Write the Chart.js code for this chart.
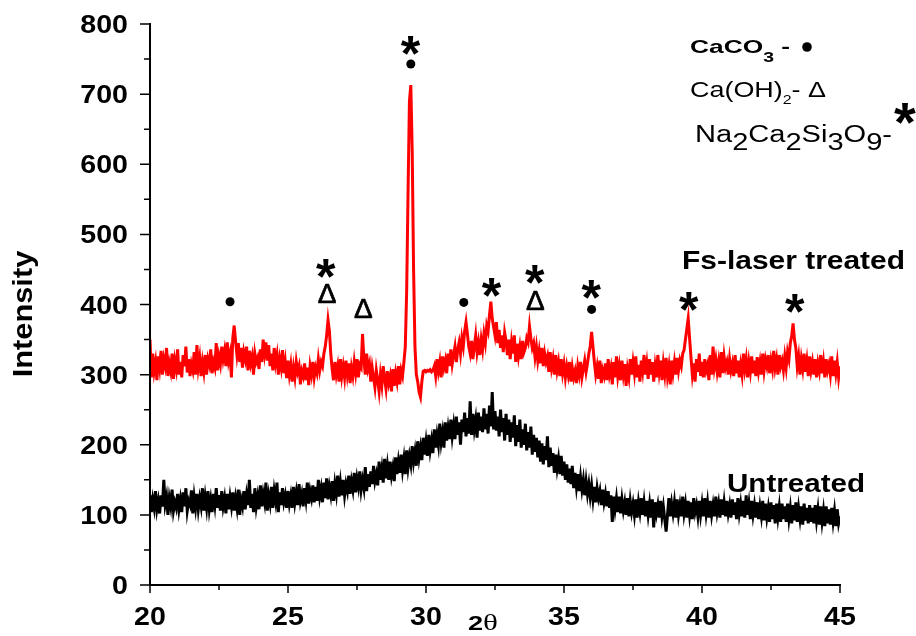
<!DOCTYPE html>
<html lang="en">
<head>
  <meta charset="UTF-8" />
  <title>XRD - Fs-laser treated vs Untreated</title>
  <script src="https://cdn.jsdelivr.net/npm/chart.js"></script>
  <style>
    html, body { margin: 0; padding: 0; background: #fff; }
    canvas { display: block; }
  </style>
</head>
<body>
  <canvas id="xrdChart" width="916" height="636"></canvas>

  <script>
    // scan grid (2theta, degrees)
    const angleStart = 20;
    const angleStep = 0.05;

    // Fs-laser treated, one row per degree, 20.00 .. 45.00
    const treated = [
      350, 296, 330, 305, 318, 292, 326, 310, 334, 300, 322, 312, 338, 298, 316, 305, 330, 294, 320, 308,
      336, 300, 318, 296, 328, 312, 340, 303, 322, 298, 315, 306, 332, 300, 342, 310, 324, 298, 318, 304,
      328, 300, 322, 314, 336, 302, 318, 310, 345, 306, 326, 315, 340, 322, 334, 312, 346, 320, 330, 296,
      352, 370, 348, 328, 345, 318, 338, 310, 332, 322, 340, 306, 334, 316, 326, 300, 330, 318, 324, 308,
      336, 318, 350, 330, 346, 320, 342, 312, 330, 306, 338, 316, 328, 300, 322, 310, 335, 302, 318, 295,
      320, 300, 314, 290, 310, 296, 318, 304, 312, 286, 305, 298, 316, 292, 310, 285, 312, 300, 318, 296,
      310, 302, 322, 306, 318, 312, 330, 340, 356, 378, 362, 330, 308, 292, 318, 300, 312, 290, 322, 298,
      312, 296, 320, 300, 316, 288, 310, 298, 318, 302, 322, 296, 314, 310, 358, 322, 300, 330, 308, 316,
      290, 310, 296, 282, 306, 292, 276, 300, 285, 312, 294, 280, 305, 288, 298, 276, 308, 284, 302, 290,
      312, 286, 306, 298, 318, 340, 420, 560, 690, 713, 620, 450, 340, 300, 290, 275, 268, 290, 305, 306,
      304, 306, 305, 307, 304, 306, 312, 298, 322, 305, 318, 296, 326, 310, 320, 302, 330, 312, 336, 315,
      328, 340, 318, 336, 346, 330, 352, 340, 362, 375, 358, 340, 330, 348, 322, 340, 356, 332, 346, 328,
      350, 336, 358, 345, 370, 362, 385, 404, 380, 368, 356, 375, 345, 364, 338, 356, 332, 360, 348, 328,
      350, 322, 346, 330, 356, 318, 344, 326, 340, 322, 348, 332, 338, 352, 346, 369, 352, 338, 345, 325,
      340, 320, 334, 316, 338, 312, 330, 318, 326, 304, 332, 310, 322, 300, 328, 306, 318, 298, 322, 302,
      315, 296, 312, 300, 318, 290, 310, 296, 305, 288, 312, 300, 318, 296, 308, 320, 304, 316, 330, 340,
      361, 340, 318, 300, 312, 294, 320, 288, 306, 298, 316, 292, 322, 300, 310, 286, 318, 296, 326, 298,
      312, 292, 320, 300, 315, 284, 308, 296, 322, 300, 318, 302, 326, 296, 314, 290, 320, 305, 328, 300,
      316, 294, 322, 300, 318, 290, 312, 296, 328, 304, 320, 292, 316, 300, 324, 298, 312, 286, 320, 302,
      318, 300, 324, 306, 320, 312, 330, 335, 350, 365, 380, 352, 325, 300, 316, 290, 322, 304, 330, 298,
      318, 296, 322, 306, 314, 292, 328, 300, 340, 310, 322, 304, 318, 296, 332, 302, 326, 310, 318, 300,
      322, 306, 316, 298, 328, 302, 320, 296, 314, 300, 330, 308, 322, 296, 318, 304, 326, 302, 320, 298,
      325, 305, 318, 300, 330, 306, 322, 312, 328, 302, 320, 308, 334, 310, 322, 300, 328, 312, 320, 306,
      326, 310, 332, 322, 345, 355, 373, 350, 338, 312, 326, 300, 322, 308, 330, 304, 320, 298, 326, 306,
      318, 300, 322, 296, 316, 305, 328, 302, 318, 296, 322, 306, 315, 300, 326, 298, 320, 302, 318, 296,
      312
    ];

    // Untreated, one row per degree, 20.00 .. 45.00
    const untreated = [
      128, 104, 122, 110, 134, 108, 120, 102, 128, 112, 150, 115, 126, 100, 124, 112, 136, 106, 118, 110,
      130, 108, 122, 104, 132, 112, 138, 106, 120, 114, 135, 102, 126, 110, 130, 108, 124, 112, 138, 106,
      126, 110, 134, 108, 122, 104, 130, 114, 138, 110, 128, 106, 134, 112, 124, 102, 130, 108, 126, 112,
      132, 106, 124, 110, 136, 100, 122, 112, 134, 108, 128, 114, 150, 110, 130, 104, 138, 112, 126, 108,
      142, 112, 130, 118, 146, 106, 128, 116, 140, 110, 134, 120, 146, 104, 132, 114, 138, 118, 128, 110,
      134, 116, 128, 110, 140, 118, 132, 114, 144, 120, 130, 112, 138, 122, 146, 116, 134, 124, 142, 118,
      140, 120, 150, 126, 138, 118, 146, 124, 152, 122, 140, 128, 148, 120, 144, 130, 156, 126, 146, 128,
      150, 128, 144, 134, 156, 130, 148, 136, 160, 132, 152, 140, 162, 136, 150, 138, 168, 134, 158, 140,
      162, 144, 170, 148, 158, 142, 176, 150, 166, 146, 180, 152, 170, 150, 176, 156, 168, 148, 182, 158,
      176, 160, 186, 164, 180, 158, 192, 168, 184, 172, 198, 176, 190, 170, 205, 182, 196, 178, 210, 186,
      204, 184, 214, 192, 206, 188, 222, 196, 214, 200, 230, 204, 218, 196, 232, 206, 224, 208, 236, 212,
      228, 208, 240, 214, 232, 200, 236, 218, 246, 212, 238, 216, 262, 214, 244, 222, 236, 210, 246, 220,
      240, 218, 252, 222, 244, 216, 256, 226, 275, 222, 248, 220, 240, 212, 250, 218, 238, 206, 244, 214,
      236, 204, 232, 210, 242, 198, 228, 204, 236, 196, 222, 200, 230, 192, 218, 196, 226, 186, 214, 190,
      210, 182, 206, 176, 202, 172, 198, 178, 212, 168, 196, 170, 188, 160, 186, 166, 180, 158, 184, 156,
      176, 150, 172, 146, 166, 144, 170, 138, 160, 140, 158, 134, 154, 136, 150, 128, 148, 130, 144, 126,
      142, 122, 140, 118, 138, 124, 134, 114, 136, 118, 130, 112, 134, 110, 128, 90, 126, 108, 124, 104,
      126, 102, 122, 106, 118, 100, 124, 98, 120, 104, 116, 100, 122, 96, 118, 104, 124, 100, 118, 98,
      120, 100, 116, 96, 122, 82, 118, 102, 114, 96, 120, 98, 112, 94, 76, 100, 124, 98, 116, 102,
      118, 96, 122, 100, 114, 98, 126, 102, 116, 96, 120, 100, 118, 94, 124, 104, 114, 98, 120, 100,
      116, 98, 124, 102, 118, 96, 120, 100, 114, 98, 126, 104, 116, 96, 122, 100, 118, 98, 120, 102,
      114, 96, 122, 100, 118, 94, 124, 102, 116, 98, 120, 96, 128, 100, 116, 94, 120, 100, 114, 96,
      118, 94, 112, 98, 120, 92, 116, 96, 110, 90, 118, 94, 114, 88, 116, 96, 112, 90, 116, 94,
      112, 90, 116, 94, 110, 88, 114, 92, 118, 90, 110, 94, 112, 86, 116, 92, 110, 88, 114, 90,
      110, 88, 114, 92, 108, 86, 112, 90, 106, 84, 112, 88, 108, 86, 110, 90, 106, 84, 108, 88,
      98
    ];

    const xTicks = [20, 25, 30, 35, 40, 45];
    const xMinorTicks = [22.5, 27.5, 32.5, 37.5, 42.5];
    const yTicks = [0, 100, 200, 300, 400, 500, 600, 700, 800];
    const yMinorTicks = [50, 150, 250, 350, 450, 550, 650, 750];

    // phase markers [2theta, intensity]
    const caco3Marks = [[22.9, 404], [29.45, 743], [31.37, 403], [36.0, 393]];
    const caoh2Marks = [[26.4, 416], [27.72, 395], [33.95, 405]];
    const silicateMarks = [[26.38, 452], [29.45, 769], [32.38, 424], [33.95, 443], [36.0, 422], [39.53, 404], [43.37, 401]];

    function toPoints(values) {
      return values.map((v, i) => ({ x: +(angleStart + i * angleStep).toFixed(2), y: v }));
    }

    // draw glyph centred on (cx, cy)
    function glyphAt(ctx, str, cx, cy, font, outline) {
      ctx.font = font;
      ctx.textAlign = 'left';
      ctx.textBaseline = 'alphabetic';
      const m = ctx.measureText(str);
      const w = m.actualBoundingBoxRight + m.actualBoundingBoxLeft;
      const x = cx - w / 2 + m.actualBoundingBoxLeft;
      const y = cy + (m.actualBoundingBoxAscent - m.actualBoundingBoxDescent) / 2;
      ctx.fillText(str, x, y);
      if (outline) {
        ctx.lineWidth = outline;
        ctx.strokeText(str, x, y);
      }
    }

    // text made of parts, stretched to fit a target width
    function richText(ctx, parts, x, y, width) {
      let total = 0;
      parts.forEach(p => { ctx.font = p.font; p.w = ctx.measureText(p.t).width; total += p.w; });
      const sx = width ? width / total : 1;
      ctx.save();
      ctx.translate(x, y);
      ctx.scale(sx, 1);
      ctx.textAlign = 'left';
      ctx.textBaseline = 'alphabetic';
      let cur = 0;
      parts.forEach(p => {
        ctx.font = p.font;
        ctx.fillText(p.t, cur, p.dy || 0);
        cur += p.w;
      });
      ctx.restore();
    }

    function stretchText(ctx, str, x, y, font, align, sx) {
      ctx.save();
      ctx.font = font;
      ctx.textAlign = align;
      ctx.textBaseline = 'alphabetic';
      ctx.translate(x, y);
      ctx.scale(sx, 1);
      ctx.fillText(str, 0, 0);
      ctx.restore();
    }

    const axesPlugin = {
      id: 'axesPlugin',
      afterDraw(chart) {
        const { ctx, chartArea: a, scales: { x, y } } = chart;
        const SANS = '"Liberation Sans", Arial, sans-serif';
        ctx.save();
        ctx.fillStyle = '#000';
        ctx.strokeStyle = '#000';

        // axis lines
        ctx.lineWidth = 2;
        ctx.beginPath();
        ctx.moveTo(a.left, a.top - 1);
        ctx.lineTo(a.left, a.bottom);
        ctx.lineTo(a.right + 1, a.bottom);
        ctx.stroke();

        // ticks
        ctx.lineWidth = 1.5;
        ctx.beginPath();
        yTicks.forEach(v => { const py = y.getPixelForValue(v); ctx.moveTo(a.left - 10, py); ctx.lineTo(a.left, py); });
        yMinorTicks.forEach(v => { const py = y.getPixelForValue(v); ctx.moveTo(a.left - 6, py); ctx.lineTo(a.left, py); });
        xTicks.forEach(v => { const px = x.getPixelForValue(v); ctx.moveTo(px, a.bottom); ctx.lineTo(px, a.bottom + 8); });
        xMinorTicks.forEach(v => { const px = x.getPixelForValue(v); ctx.moveTo(px, a.bottom); ctx.lineTo(px, a.bottom + 5); });
        ctx.stroke();

        // tick labels
        const tickFont = 'bold 26px ' + SANS;
        yTicks.forEach(v => {
          stretchText(ctx, String(v), a.left - 22, y.getPixelForValue(v) + 9, tickFont, 'right', 1.1);
        });
        xTicks.forEach(v => {
          stretchText(ctx, String(v), x.getPixelForValue(v), a.bottom + 40, tickFont, 'center', 1.1);
        });

        // axis titles
        ctx.save();
        ctx.translate(32, 314);
        ctx.rotate(-Math.PI / 2);
        stretchText(ctx, 'Intensity', 0, 0, 'bold 27px ' + SANS, 'center', 1.14);
        ctx.restore();
        richText(ctx, [
          { t: '2', font: 'bold 21px ' + SANS },
          { t: 'θ', font: '24px "Liberation Serif", "Times New Roman", serif' }
        ], 468, 630, 30);

        // phase markers
        caco3Marks.forEach(([mx, my]) => {
          ctx.beginPath();
          ctx.arc(x.getPixelForValue(mx), y.getPixelForValue(my), 4.5, 0, Math.PI * 2);
          ctx.fill();
        });
        caoh2Marks.forEach(([mx, my]) => {
          glyphAt(ctx, 'Δ', x.getPixelForValue(mx), y.getPixelForValue(my), '28px ' + SANS, 0.7);
        });
        silicateMarks.forEach(([mx, my]) => {
          glyphAt(ctx, '*', x.getPixelForValue(mx), y.getPixelForValue(my), 'bold 50px ' + SANS);
        });

        // phase key
        richText(ctx, [
          { t: 'CaCO', font: 'bold 19px ' + SANS },
          { t: '3', font: 'bold 14px ' + SANS, dy: 9 },
          { t: ' -', font: 'bold 19px ' + SANS }
        ], 690, 53, 100);
        ctx.beginPath();
        ctx.arc(807, 47, 4.8, 0, Math.PI * 2);
        ctx.fill();
        richText(ctx, [
          { t: 'Ca(OH)', font: '22px ' + SANS },
          { t: '2', font: '13px ' + SANS, dy: 7 },
          { t: '- Δ', font: '22px ' + SANS }
        ], 690, 97, 136);
        richText(ctx, [
          { t: 'Na', font: '23px ' + SANS },
          { t: '2', font: '23px ' + SANS, dy: 8 },
          { t: 'Ca', font: '23px ' + SANS },
          { t: '2', font: '23px ' + SANS, dy: 8 },
          { t: 'Si', font: '23px ' + SANS },
          { t: '3', font: '23px ' + SANS, dy: 8 },
          { t: 'O', font: '23px ' + SANS },
          { t: '9', font: '23px ' + SANS, dy: 8 },
          { t: '-', font: '23px ' + SANS }
        ], 695, 142, 197);
        glyphAt(ctx, '*', 905, 113, 'bold 56px ' + SANS);

        // series labels
        richText(ctx, [{ t: 'Fs-laser treated', font: 'bold 25px ' + SANS }], 682, 269, 223);
        richText(ctx, [{ t: 'Untreated', font: 'bold 25px ' + SANS }], 727, 492, 138);

        ctx.restore();
      }
    };

    const ctx = document.getElementById('xrdChart').getContext('2d');

    new Chart(ctx, {
      type: 'line',
      data: {
        datasets: [
          {
            label: 'Fs-laser treated',
            data: toPoints(treated),
            borderColor: '#ff0000',
            borderWidth: 3,
            pointRadius: 0,
            tension: 0,
            fill: false
          },
          {
            label: 'Untreated',
            data: toPoints(untreated),
            borderColor: '#000000',
            borderWidth: 3,
            pointRadius: 0,
            tension: 0,
            fill: false
          }
        ]
      },
      options: {
        responsive: false,
        animation: false,
        layout: { padding: { left: 150, right: 76, top: 24, bottom: 51 } },
        plugins: {
          legend: { display: false },
          tooltip: { enabled: false }
        },
        scales: {
          x: { type: 'linear', min: 20, max: 45, display: false },
          y: { min: 0, max: 800, display: false }
        }
      },
      plugins: [axesPlugin]
    });
  </script>
</body>
</html>
